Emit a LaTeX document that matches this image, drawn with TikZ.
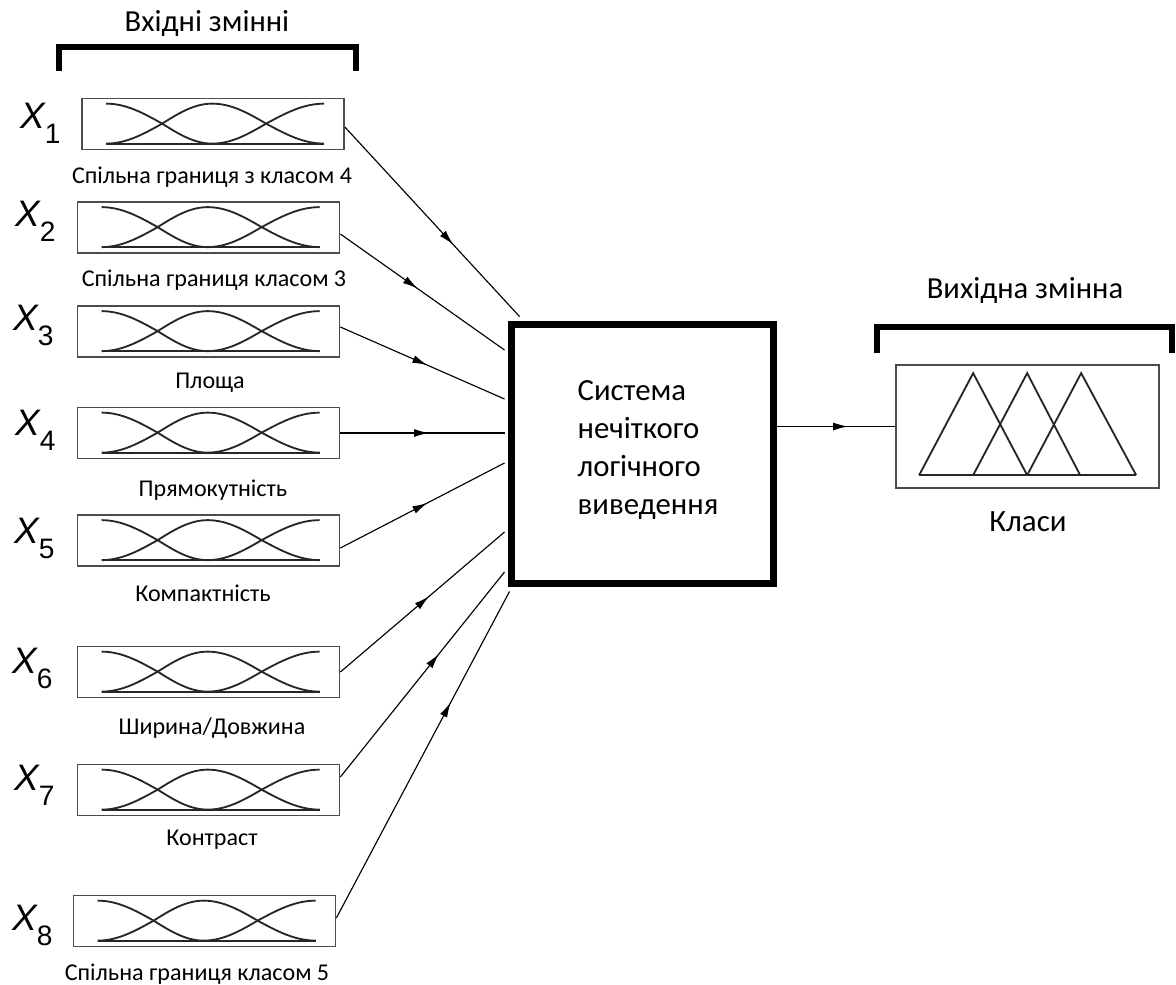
\documentclass[tikz,border=0pt]{standalone}
\usepackage{fontspec}
\setmainfont{Carlito}
\newfontfamily\arialf{Liberation Sans}
\usetikzlibrary{arrows.meta,decorations.markings,calc}
\newcommand\xsub[1]{\raisebox{-9pt}{\upshape\fontsize{16}{16}\selectfont#1}}
\newcommand\mfcurves{%
  \draw[mf] (25,6) cos (81,26) sin (131,46);
  \draw[mf] (25,46) cos (81,26) sin (131,6) cos (185,26) sin (243,46);
  \draw[mf] (131,46) cos (185,26) sin (243,6);
  \draw[mf] (25,46) -- (243,46);
}
\begin{document}
\begin{tikzpicture}[x=0.02cm,y=-0.02cm,
  inbox/.style={draw=black!70, line width=1pt, minimum width=5.24cm, minimum height=1.02cm, inner sep=0pt},
  mf/.style={draw=black!85, line width=1.05pt},
  lab/.style={font=\fontsize{13.7}{16}\selectfont, inner sep=0pt},
  xlab/.style={font=\arialf\fontsize{21}{21}\selectfont\itshape, anchor=base west, inner sep=0pt},
  head/.style={font=\fontsize{17.4}{20}\selectfont, inner sep=0pt},
  conn/.style={line width=0.65pt, draw=black},
  midarrow/.style={postaction={decorate}, decoration={markings, mark=at position #1 with {\arrow{Latex[length=8.5pt,width=4.5pt]}}}},
  bracket/.style={line width=3.4pt, line cap=butt},
]
\useasboundingbox (0,0) rectangle (1176,984);

% headings and brackets
\node[head] (hin) at (207,23) {Вхідні змінні};
\draw[bracket] (59,71) -- (59,47) -- (356,47) -- (356,71);
\node[head] (hout) at (1025,290) {Вихідна змінна};
\draw[bracket] (877,353) -- (877,327) -- (1172,327) -- (1172,353);

% input boxes
\node[inbox] (b1) at (213,124) {};
\node[inbox] (b2) at (208.5,227.5) {};
\node[inbox] (b3) at (208.5,331.5) {};
\node[inbox] (b4) at (208.5,433) {};
\node[inbox] (b5) at (208.5,540.5) {};
\node[inbox] (b6) at (208.5,672) {};
\node[inbox] (b7) at (208.5,790) {};
\node[inbox] (b8) at (204.5,921) {};
\foreach \b in {b1,b2,b3,b4,b5,b6,b7,b8}{
  \begin{scope}[shift={(\b.north west)}]
    \mfcurves
  \end{scope}
}

% X labels
\node[xlab] (x1) at (20,128) {X\xsub{1}};
\node[xlab] (x2) at (15,226) {X\xsub{2}};
\node[xlab] (x3) at (13,330) {X\xsub{3}};
\node[xlab] (x4) at (15,435) {X\xsub{4}};
\node[xlab] (x5) at (14,543) {X\xsub{5}};
\node[xlab] (x6) at (12,673) {X\xsub{6}};
\node[xlab] (x7) at (14,790) {X\xsub{7}};
\node[xlab] (x8) at (12,930) {X\xsub{8}};

% captions
\node[lab] (l1) at (212,177) {Спільна границя з класом 4};
\node[lab] (l2) at (214,280) {Спільна границя класом 3};
\node[lab] (l3) at (210,383) {Площа};
\node[lab] (l4) at (213,490) {Прямокутність};
\node[lab] (l5) at (203,593) {Компактність};
\node[lab] (l6) at (212,728) {Ширина/Довжина};
\node[lab] (l7) at (212,840) {Контраст};
\node[lab] (l8) at (197,974) {Спільна границя класом 5};

% central system
\node[draw, line width=4pt, minimum width=5.26cm, minimum height=5.2cm, inner sep=0pt] (sys) at (642.5,454) {};
\node[font=\fontsize{17.5}{21.5}\selectfont, align=left, inner sep=0pt] (systxt) at (648,450) {Система\\нечіткого\\логічного\\виведення};

% output
\node[draw=black!70, line width=1pt, minimum width=5.26cm, minimum height=2.46cm, inner sep=0pt] (outb) at (1027.5,426.5) {};
\begin{scope}[shift={(outb.north west)}]
  \draw[mf] (24,111) -- (78,9) -- (132,111);
  \draw[mf] (78,111) -- (132,9) -- (185,111);
  \draw[mf] (132,111) -- (186,9) -- (241,111);
  \draw[mf] (24,111) -- (241,111);
\end{scope}
\node[font=\fontsize{17.6}{20}\selectfont, inner sep=0pt] (kl) at (1028,522) {Класи};

% connectors
\draw[conn, midarrow=0.62] ($(b1.east)+(0,3)$) -- ($(sys.north west)+(12,-4)$);
\draw[conn, midarrow=0.47] ($(b2.east)+(0,6.5)$) -- ($(sys.west)+(-3,-104)$);
\draw[conn, midarrow=0.53] ($(b3.east)+(0,-4.5)$) -- ($(sys.west)+(-3,-55)$);
\draw[conn, midarrow=0.54] (b4.east) -- ($(sys.west)+(-3,-21)$);
\draw[conn, midarrow=0.53] ($(b5.east)+(0,7.5)$) -- ($(sys.west)+(-3,9)$);
\draw[conn, midarrow=0.54] (b6.east) -- ($(sys.west)+(-3,78)$);
\draw[conn, midarrow=0.6] ($(b7.east)+(0,-13)$) -- ($(sys.west)+(-3,118)$);
\draw[conn, midarrow=0.66] ($(b8.east)+(0,-3)$) -- ($(sys.south west)+(2,4)$);
\draw[conn, midarrow=0.6] (sys.east |- outb.west) -- (outb.west);
\end{tikzpicture}
\end{document}
